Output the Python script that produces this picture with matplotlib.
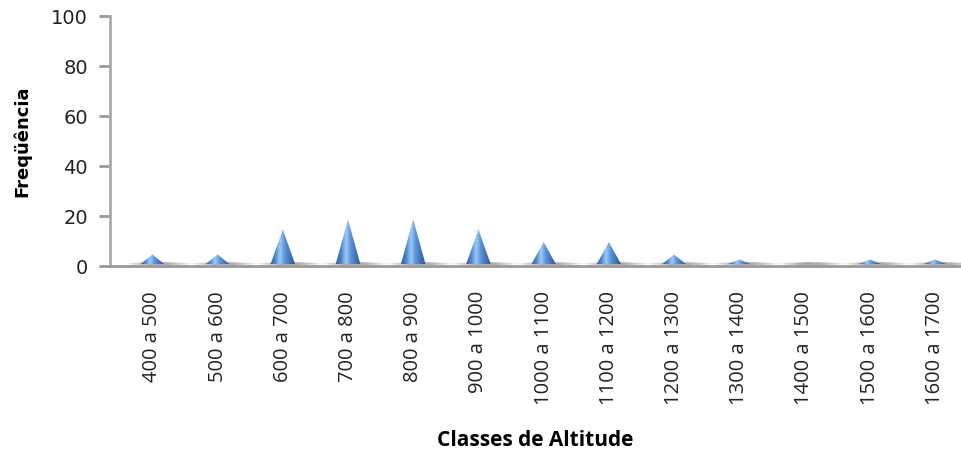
import numpy as np
import matplotlib.pyplot as plt
from matplotlib.colors import LinearSegmentedColormap
from matplotlib.patches import Polygon, Ellipse

classes = ["400 a 500", "500 a 600", "600 a 700", "700 a 800", "800 a 900",
           "900 a 1000", "1000 a 1100", "1100 a 1200", "1200 a 1300",
           "1300 a 1400", "1400 a 1500", "1500 a 1600", "1600 a 1700"]
freq = [4, 4, 14, 18, 18, 14, 9, 9, 4, 2, 0.5, 2, 2]

cone_cmap = LinearSegmentedColormap.from_list(
    "cone", ["#2f5e9e", "#4d84cc", "#9ccaf7", "#5b92d8", "#4174b8", "#2c5896"])

fig = plt.figure(figsize=(9.61, 4.54), dpi=100)
ax = fig.add_axes([110 / 961, 1 - 266 / 454, 1 - 110 / 961, 250 / 454])

x = np.arange(len(classes))
half = 0.19
grad = np.linspace(0, 1, 64).reshape(1, -1)

for xi, v in zip(x, freq):
    # soft floor shadow around each cone
    for k in range(6):
        ax.add_patch(Ellipse((xi + 0.1, 0.9), 1.0 - k * 0.13, 1.3,
                             facecolor="#707070", edgecolor="none",
                             alpha=0.12, zorder=1))
    tri = Polygon([(xi - half, 0.6), (xi, v + 0.6), (xi + half, 0.6)],
                  closed=True, facecolor="none", edgecolor="none")
    ax.add_patch(tri)
    im = ax.imshow(grad, cmap=cone_cmap, aspect="auto",
                   extent=[xi - half, xi + half, 0.6, v + 0.6], zorder=2)
    im.set_clip_path(tri)

ax.set_xlim(-0.65, 12.4)
ax.set_ylim(0, 100)
ax.set_yticks([0, 20, 40, 60, 80, 100])
ax.set_xticks(x)
ax.set_xticklabels(classes, rotation=90, fontsize=14.5, color="#222222",
                   family="Open Sans")
ax.tick_params(axis="x", length=0, pad=18)
ax.tick_params(axis="y", length=8, width=2, color="#999999", labelsize=14,
               labelcolor="#222222", pad=8)

for side in ["top", "right"]:
    ax.spines[side].set_visible(False)
ax.spines["left"].set_color("#aaaaaa")
ax.spines["left"].set_linewidth(2)
ax.spines["bottom"].set_color("#999999")
ax.spines["bottom"].set_linewidth(2)

ax.set_xlabel("Classes de Altitude", fontsize=15, fontweight="bold",
              family="Open Sans", labelpad=18)
ax.set_ylabel("Freqüência", fontsize=13, fontweight="bold", labelpad=14)

fig.savefig("out.png", dpi=100)
